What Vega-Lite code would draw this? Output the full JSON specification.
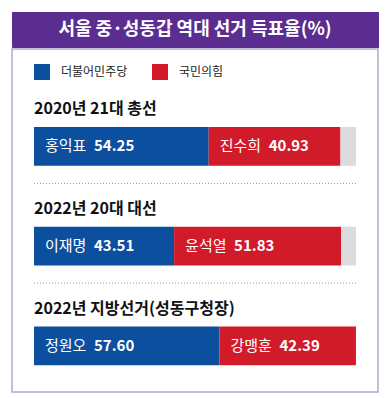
{
  "$schema": "https://vega.github.io/schema/vega-lite/v6.json",
  "background": "white",
  "padding": {"left": 11, "top": 11, "right": 9, "bottom": 9},
  "spacing": 0,
  "config": {
    "view": {"stroke": null},
    "font": "Noto Sans CJK KR"
  },
  "datasets": {
    "results": [
      {"election": "2020년 21대 총선", "party": "더불어민주당", "candidate": "홍익표", "value": 54.25, "rank": 1},
      {"election": "2020년 21대 총선", "party": "국민의힘", "candidate": "진수희", "value": 40.93, "rank": 2},
      {"election": "2020년 21대 총선", "party": "기타", "candidate": "", "value": 4.82, "rank": 3},
      {"election": "2022년 20대 대선", "party": "더불어민주당", "candidate": "이재명", "value": 43.51, "rank": 1},
      {"election": "2022년 20대 대선", "party": "국민의힘", "candidate": "윤석열", "value": 51.83, "rank": 2},
      {"election": "2022년 20대 대선", "party": "기타", "candidate": "", "value": 4.66, "rank": 3},
      {"election": "2022년 지방선거(성동구청장)", "party": "더불어민주당", "candidate": "정원오", "value": 57.60, "rank": 1},
      {"election": "2022년 지방선거(성동구청장)", "party": "국민의힘", "candidate": "강맹훈", "value": 42.39, "rank": 2},
      {"election": "2022년 지방선거(성동구청장)", "party": "기타", "candidate": "", "value": 0.01, "rank": 3}
    ]
  },
  "vconcat": [
    {
      "width": 366,
      "height": 35,
      "view": {"fill": "#5c2d91", "stroke": "#5c2d91"},
      "data": {"values": [{"title": "서울 중·성동갑 역대 선거 득표율(%)"}]},
      "mark": {"type": "text", "color": "white", "fontSize": 18, "fontWeight": "bold", "font": "Noto Sans CJK KR", "baseline": "middle", "align": "center"},
      "encoding": {"text": {"field": "title"}}
    },
    {
      "width": 366,
      "height": 343,
      "view": {"fill": "white", "stroke": "#b8a6d0", "strokeWidth": 1.5},
      "data": {"name": "results"},
      "transform": [
        {"stack": "value", "groupby": ["election"], "sort": [{"field": "rank", "order": "ascending"}], "as": ["v0", "v1"]}
      ],
      "layer": [
        {
          "mark": {"type": "bar"},
          "encoding": {
            "y": {"field": "election", "type": "nominal", "axis": null,
                  "scale": {"domain": ["2020년 21대 총선", "2022년 20대 대선", "2022년 지방선거(성동구청장)"], "range": [78, 316.2], "paddingInner": 0.611, "paddingOuter": 0}},
            "x": {"field": "v0", "type": "quantitative", "axis": null, "scale": {"domain": [-6.832, 106.832], "nice": false, "zero": false}},
            "x2": {"field": "v1"},
            "color": {"field": "party", "type": "nominal",
                      "scale": {"domain": ["더불어민주당", "국민의힘", "기타"], "range": ["#0b4f9e", "#d11a2a", "#dcdcdc"]},
                      "legend": {"orient": "none", "legendX": 22, "legendY": 52, "direction": "horizontal", "title": null,
                                 "values": ["더불어민주당", "국민의힘"], "symbolType": "square", "symbolSize": 256,
                                 "symbolStrokeWidth": 0, "symbolOpacity": 1, "labelFont": "Noto Sans CJK KR", "labelFontSize": 12,
                                 "labelColor": "#222222", "labelOffset": 11, "columnPadding": 24, "padding": 0}}
          }
        },
        {
          "transform": [{"filter": "datum.party === '더불어민주당'"}],
          "mark": {"type": "text", "align": "left", "baseline": "alphabetic", "fontSize": 16, "fontWeight": "bold", "color": "#111111", "yOffset": -32},
          "encoding": {
            "y": {"field": "election", "type": "nominal"},
            "x": {"datum": 0, "type": "quantitative"},
            "text": {"field": "election"}
          }
        },
        {
          "transform": [{"filter": "datum.party === '더불어민주당' && datum.election !== '2022년 지방선거(성동구청장)'"}],
          "mark": {"type": "rule", "color": "#9a9a9a", "strokeDash": [1, 2], "strokeWidth": 1, "yOffset": 37},
          "encoding": {
            "y": {"field": "election", "type": "nominal"},
            "x": {"datum": 0, "type": "quantitative"},
            "x2": {"datum": 100}
          }
        },
        {
          "transform": [{"filter": "datum.party !== '기타'"}],
          "mark": {"type": "text", "align": "left", "baseline": "middle", "fontSize": 15, "color": "white", "dx": 11},
          "encoding": {
            "y": {"field": "election", "type": "nominal"},
            "x": {"field": "v0", "type": "quantitative"},
            "text": {"field": "candidate"}
          }
        },
        {
          "transform": [{"filter": "datum.party !== '기타'"}],
          "mark": {"type": "text", "align": "left", "baseline": "middle", "fontSize": 15, "fontWeight": "bold", "color": "white", "dx": 60},
          "encoding": {
            "y": {"field": "election", "type": "nominal"},
            "x": {"field": "v0", "type": "quantitative"},
            "text": {"field": "value", "type": "quantitative", "format": ".2f"}
          }
        }
      ]
    }
  ]
}
